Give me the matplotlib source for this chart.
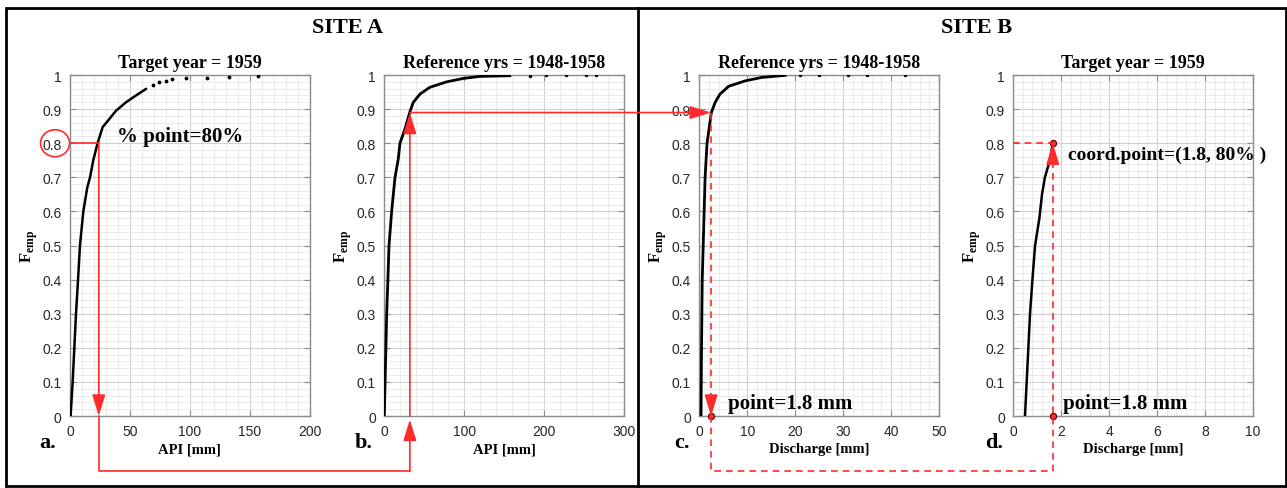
import numpy as np
import matplotlib
matplotlib.use('Agg')
import matplotlib.pyplot as plt
from matplotlib.patches import FancyArrowPatch, Ellipse, Rectangle
from matplotlib.lines import Line2D
from matplotlib.ticker import MultipleLocator
import matplotlib.transforms as mtransforms

plt.rcParams['mathtext.fontset'] = 'custom'
plt.rcParams['mathtext.rm'] = 'Liberation Serif'
plt.rcParams['mathtext.bf'] = 'Liberation Serif:bold'

# --- data ---
# a. site A, target year (API)
a_x = [0.5, 2.2, 3.6, 5.0, 6.7, 8.3, 11.1, 14.4, 16.7, 19.4, 23.0, 27.2, 32.8, 38.3, 46.7, 55.0, 63.3]
a_F = [0.0, 0.1, 0.2, 0.3, 0.4, 0.5, 0.6, 0.67, 0.7, 0.75, 0.8, 0.847, 0.871, 0.895, 0.92, 0.94, 0.959]
a_dots_x = [69, 74, 80, 85, 97, 114, 133, 157]
a_dots_F = [0.972, 0.979, 0.983, 0.987, 0.99, 0.992, 0.994, 0.996]

# b. site A, reference years (API)
b_x = [0, 1, 2, 3, 4.5, 5.9, 9.2, 13.4, 17.5, 19.6, 25.9, 32, 36.3, 44.6, 57, 78, 98.8, 119.6, 157]
b_F = [0.0, 0.1, 0.2, 0.3, 0.4, 0.5, 0.6, 0.7, 0.754, 0.8, 0.842, 0.892, 0.92, 0.944, 0.964, 0.98, 0.99, 0.996, 0.998]
b_dots_x = [182, 203, 228, 253, 265]
b_dots_F = [0.998, 0.999, 0.999, 0.999, 0.999]

# c. site B, reference years (discharge)
c_x = [0.35, 0.45, 0.6, 0.8, 1.0, 1.2, 1.6, 2.1, 2.5, 3.3, 4.3, 6.1, 9.6, 13.0, 17.9]
c_F = [0.0, 0.2, 0.4, 0.5, 0.6, 0.7, 0.8, 0.85, 0.89, 0.92, 0.944, 0.967, 0.983, 0.993, 0.999]
c_dots_x = [21, 25, 31, 35, 43]
c_dots_F = [0.999, 0.999, 0.999, 0.999, 0.999]

# d. site B, target year (discharge)
d_x = [0.49, 0.56, 0.63, 0.70, 0.80, 0.91, 1.09, 1.20, 1.32, 1.53, 1.65]
d_F = [0.0, 0.1, 0.2, 0.3, 0.4, 0.5, 0.58, 0.65, 0.7, 0.75, 0.8]

# procedure points
a_pt = (24, 0.8)
b_pt = (32, 0.89)
c_pt = (2.45, 0.89)
d_pt = (1.65, 0.8)

titles = ['Target year = 1959', 'Reference yrs = 1948-1958',
          'Reference yrs = 1948-1958', 'Target year = 1959']
xlabels = ['API [mm]', 'API [mm]', 'Discharge [mm]', 'Discharge [mm]']
letters = ['a.', 'b.', 'c.', 'd.']
xlims = [200, 300, 50, 10]
xmajor = [50, 100, 10, 2]
xminor = [10, 20, 2, 0.4]
yticks = [0, 0.1, 0.2, 0.3, 0.4, 0.5, 0.6, 0.7, 0.8, 0.9, 1]
ytick_labels = ['0', '0.1', '0.2', '0.3', '0.4', '0.5', '0.6', '0.7', '0.8', '0.9', '1']

serif = 'Liberation Serif'
sans = 'Liberation Sans'
red = '#ff2a2a'

fig = plt.figure(figsize=(12.87, 4.89), dpi=100)

lefts = [0.0544, 0.2986, 0.5434, 0.7873]
letter_x = [-0.092, -0.085, -0.072, -0.081]
axes = []
for i in range(4):
    ax = fig.add_axes([lefts[i], 0.1472, 0.1862, 0.6973])
    ax.set_xlim(0, xlims[i])
    ax.set_ylim(0, 1)
    ax.xaxis.set_major_locator(MultipleLocator(xmajor[i]))
    ax.xaxis.set_minor_locator(MultipleLocator(xminor[i]))
    ax.set_yticks(yticks)
    ax.set_yticklabels(ytick_labels)
    ax.yaxis.set_minor_locator(MultipleLocator(0.02))
    ax.grid(which='major', color='#d0d0d0', lw=0.8)
    ax.grid(which='minor', color='#e8e8e8', lw=0.6)
    ax.set_axisbelow(True)
    ax.tick_params(which='major', direction='in', length=4, top=True, right=True,
                   colors='#8c8c8c', labelcolor='#262626', labelsize=10, pad=6)
    ax.tick_params(which='minor', length=0)
    for lab in ax.get_xticklabels() + ax.get_yticklabels():
        lab.set_family(sans)
    for s in ax.spines.values():
        s.set_color('#8c8c8c')
        s.set_linewidth(1.0)
    ax.set_title(titles[i], family=serif, weight='bold', fontsize=13, pad=6)
    ax.set_xlabel(xlabels[i], family=serif, weight='bold', fontsize=10.5)
    ax.xaxis.set_label_coords(0.5, -0.077)
    ax.set_ylabel(r'$\mathbf{F}_{\mathbf{emp}}$', fontsize=12)
    ax.yaxis.set_label_coords(-0.125, 0.5)
    ax.text(letter_x[i], -0.076, letters[i], transform=ax.transAxes, family=serif,
            weight='bold', fontsize=16, ha='center', va='center')
    axes.append(ax)

ax_a, ax_b, ax_c, ax_d = axes
ax_a.plot(a_x, a_F, color='black', lw=1.8, zorder=3)
ax_a.plot(a_dots_x, a_dots_F, 'k.', ms=3.5, zorder=3)
ax_b.plot(b_x, b_F, color='black', lw=2, zorder=3)
ax_b.plot(b_dots_x, b_dots_F, 'k.', ms=3, zorder=3)
ax_c.plot(c_x, c_F, color='black', lw=2, zorder=3)
ax_c.plot(c_dots_x, c_dots_F, 'k.', ms=3, zorder=3)
ax_d.plot(d_x, d_F, color='black', lw=1.8, zorder=3)


def fxy(ax, x, y):
    return fig.transFigure.inverted().transform(ax.transData.transform((x, y)))


def arrow(p0, p1):
    fig.add_artist(FancyArrowPatch(p0, p1, transform=fig.transFigure,
                                   arrowstyle='-|>,head_length=0.65,head_width=0.2',
                                   mutation_scale=20, color=red, lw=1.2,
                                   shrinkA=0, shrinkB=0, zorder=5))


def line(xs, ys, ls='-'):
    fig.add_artist(Line2D(xs, ys, transform=fig.transFigure, color=red, lw=1.2,
                          linestyle=ls, dashes=(4, 3) if ls == '--' else (None, None),
                          zorder=5))


y_conn = 0.0354

# panel a: 80% -> API value
p_a0 = fxy(ax_a, 0, a_pt[1])
p_a = fxy(ax_a, *a_pt)
p_a_bot = fxy(ax_a, a_pt[0], 0)
line([p_a0[0], p_a[0]], [p_a0[1], p_a[1]])
arrow(p_a, p_a_bot)
ell_tr = mtransforms.blended_transform_factory(ax_a.transAxes, ax_a.transData)
ax_a.add_patch(Ellipse((-0.0625, 0.8), 0.121, 0.079, transform=ell_tr,
                       fill=False, ec=red, lw=1.2, clip_on=False))
ax_a.text(39, 0.821, '% point=80%', family=serif, weight='bold', fontsize=15, va='center')

# a -> b connector
p_b_bot = fxy(ax_b, b_pt[0], 0)
line([p_a_bot[0], p_a_bot[0], p_b_bot[0]], [p_a_bot[1], y_conn, y_conn])
arrow((p_b_bot[0], y_conn), (p_b_bot[0], p_b_bot[1] - 0.007))
p_b = fxy(ax_b, *b_pt)
arrow(p_b_bot, p_b)

# b -> c
p_c = fxy(ax_c, *c_pt)
arrow(p_b, p_c)

# panel c: dashed down to discharge value
p_c_bot = fxy(ax_c, c_pt[0], 0)
line([p_c[0], p_c_bot[0]], [p_c[1], p_c_bot[1] + 0.03], ls='--')
arrow((p_c_bot[0], p_c_bot[1] + 0.035), p_c_bot)
ax_c.plot([c_pt[0]], [0], 'o', ms=4.5, mfc=red, mec='#5a0000', mew=0.8, clip_on=False, zorder=6)
ax_c.text(6.0, 0.038, 'point=1.8 mm', family=serif, weight='bold', fontsize=15, va='center')

# c -> d connector
p_d_bot = fxy(ax_d, d_pt[0], 0)
p_d = fxy(ax_d, *d_pt)
line([p_c_bot[0], p_c_bot[0], p_d_bot[0], p_d_bot[0]],
     [p_c_bot[1], y_conn, y_conn, p_d[1] - 0.035], ls='--')
arrow((p_d[0], p_d[1] - 0.04), p_d)
p_d0 = fxy(ax_d, 0, d_pt[1])
line([p_d0[0], p_d[0]], [p_d0[1], p_d[1]], ls='--')
ax_d.plot([d_pt[0], d_pt[0]], [0, d_pt[1]], 'o', ls='none', ms=4.5, mfc=red, mec='#5a0000',
          mew=0.8, clip_on=False, zorder=6)
ax_d.text(2.08, 0.038, 'point=1.8 mm', family=serif, weight='bold', fontsize=15, va='center')
ax_d.text(2.29, 0.768, 'coord.point=(1.8, 80% )', family=serif, weight='bold', fontsize=14,
          va='center', clip_on=False)

# site frames and headings
W, H = 1287.0, 489.0
fig.add_artist(Rectangle((6 / W, 1 - 487 / H), 1280 / W, 478 / H, transform=fig.transFigure,
                         fill=False, ec='black', lw=2))
fig.add_artist(Line2D([638 / W, 638 / W], [1 - 487 / H, 1 - 9 / H], transform=fig.transFigure,
                      color='black', lw=2))
fig.text(348 / W, 1 - 28 / H, 'SITE A', family=serif, weight='bold', fontsize=16,
         ha='center', va='center')
fig.text(977 / W, 1 - 28 / H, 'SITE B', family=serif, weight='bold', fontsize=16,
         ha='center', va='center')

fig.savefig('out.png', dpi=100)
